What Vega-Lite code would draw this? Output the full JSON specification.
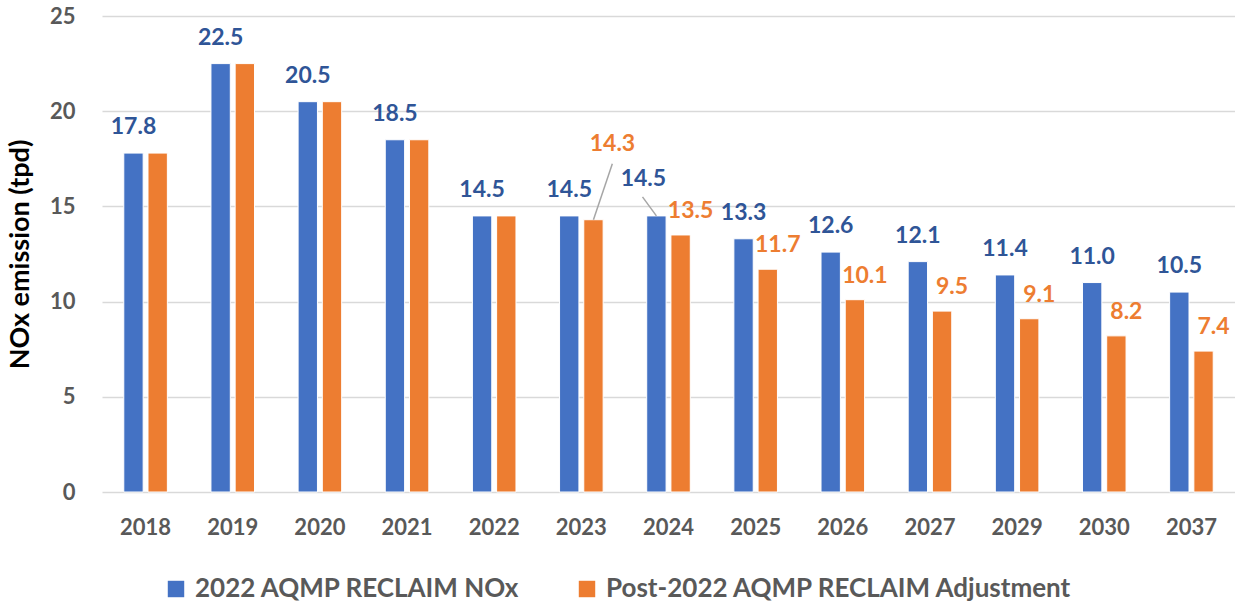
{
  "$schema": "https://vega.github.io/schema/vega-lite/v6.json",
  "width": 1133,
  "height": 476,
  "autosize": {"type": "none"},
  "padding": {"left": 102, "top": 16, "right": 0, "bottom": 115},
  "config": {"font": "Lato", "view": {"stroke": null}},
  "data": {"values": [
    {"year": "2018", "series": "2022 AQMP RECLAIM NOx", "value": 17.8},
    {"year": "2018", "series": "Post-2022 AQMP RECLAIM Adjustment", "value": 17.8},
    {"year": "2019", "series": "2022 AQMP RECLAIM NOx", "value": 22.5},
    {"year": "2019", "series": "Post-2022 AQMP RECLAIM Adjustment", "value": 22.5},
    {"year": "2020", "series": "2022 AQMP RECLAIM NOx", "value": 20.5},
    {"year": "2020", "series": "Post-2022 AQMP RECLAIM Adjustment", "value": 20.5},
    {"year": "2021", "series": "2022 AQMP RECLAIM NOx", "value": 18.5},
    {"year": "2021", "series": "Post-2022 AQMP RECLAIM Adjustment", "value": 18.5},
    {"year": "2022", "series": "2022 AQMP RECLAIM NOx", "value": 14.5},
    {"year": "2022", "series": "Post-2022 AQMP RECLAIM Adjustment", "value": 14.5},
    {"year": "2023", "series": "2022 AQMP RECLAIM NOx", "value": 14.5},
    {"year": "2023", "series": "Post-2022 AQMP RECLAIM Adjustment", "value": 14.3},
    {"year": "2024", "series": "2022 AQMP RECLAIM NOx", "value": 14.5},
    {"year": "2024", "series": "Post-2022 AQMP RECLAIM Adjustment", "value": 13.5},
    {"year": "2025", "series": "2022 AQMP RECLAIM NOx", "value": 13.3},
    {"year": "2025", "series": "Post-2022 AQMP RECLAIM Adjustment", "value": 11.7},
    {"year": "2026", "series": "2022 AQMP RECLAIM NOx", "value": 12.6},
    {"year": "2026", "series": "Post-2022 AQMP RECLAIM Adjustment", "value": 10.1},
    {"year": "2027", "series": "2022 AQMP RECLAIM NOx", "value": 12.1},
    {"year": "2027", "series": "Post-2022 AQMP RECLAIM Adjustment", "value": 9.5},
    {"year": "2029", "series": "2022 AQMP RECLAIM NOx", "value": 11.4},
    {"year": "2029", "series": "Post-2022 AQMP RECLAIM Adjustment", "value": 9.1},
    {"year": "2030", "series": "2022 AQMP RECLAIM NOx", "value": 11.0},
    {"year": "2030", "series": "Post-2022 AQMP RECLAIM Adjustment", "value": 8.2},
    {"year": "2037", "series": "2022 AQMP RECLAIM NOx", "value": 10.5},
    {"year": "2037", "series": "Post-2022 AQMP RECLAIM Adjustment", "value": 7.4}
  ]},
  "encoding": {
    "x": {
      "field": "year", "type": "nominal",
      "scale": {"paddingInner": 0.5, "paddingOuter": 0.25},
      "axis": {
        "title": null, "labelAngle": 0, "domain": false, "ticks": false, "grid": false,
        "labelFont": "Lato", "labelFontSize": 22, "labelFontWeight": "bold",
        "labelColor": "#595959", "labelPadding": 25
      }
    },
    "xOffset": {
      "field": "series", "type": "nominal",
      "sort": ["2022 AQMP RECLAIM NOx", "Post-2022 AQMP RECLAIM Adjustment"],
      "scale": {"paddingInner": 0.2, "paddingOuter": 0}
    },
    "y": {
      "field": "value", "type": "quantitative",
      "scale": {"domain": [0, 25], "nice": false},
      "axis": {
        "values": [0, 5, 10, 15, 20, 25],
        "title": "NOx emission (tpd)", "titleFont": "Lato", "titleFontSize": 27,
        "titleFontWeight": "bold", "titleColor": "#000000", "titlePadding": 15,
        "domain": false, "ticks": false, "grid": true, "gridColor": "#d9d9d9", "gridWidth": 1.5,
        "labelFont": "Lato", "labelFontSize": 22, "labelFontWeight": "bold",
        "labelColor": "#595959", "labelPadding": 27
      }
    }
  },
  "layer": [
    {
      "mark": {"type": "bar", "stroke": "white", "strokeWidth": 1},
      "encoding": {
        "color": {
          "field": "series", "type": "nominal",
          "scale": {
            "domain": ["2022 AQMP RECLAIM NOx", "Post-2022 AQMP RECLAIM Adjustment"],
            "range": ["#4472C4", "#ED7D31"]
          },
          "legend": {
            "title": null, "orient": "none", "legendX": 61, "legendY": 560,
            "direction": "horizontal", "symbolType": "square", "symbolSize": 270,
            "symbolStrokeWidth": 0, "labelFont": "Lato", "labelFontSize": 26,
            "labelFontWeight": "bold", "labelColor": "#595959", "columnPadding": 54,
            "labelOffset": 6, "labelLimit": 0
          }
        }
      }
    },
    {
      "transform": [{"filter": "datum.series == '2022 AQMP RECLAIM NOx' && datum.year != '2024'"}],
      "mark": {"type": "text", "baseline": "middle", "dy": -26, "fontSize": 23, "fontWeight": "bold", "font": "Lato", "color": "#2F5597"},
      "encoding": {"text": {"field": "value", "type": "quantitative", "format": ".1f"}}
    },
    {
      "transform": [{"filter": "datum.series == 'Post-2022 AQMP RECLAIM Adjustment' && datum.year > '2023'"}],
      "mark": {"type": "text", "baseline": "middle", "dx": 10, "dy": -24, "fontSize": 23, "fontWeight": "bold", "font": "Lato", "color": "#ED7D31"},
      "encoding": {"text": {"field": "value", "type": "quantitative", "format": ".1f"}}
    },
    {
      "transform": [{"filter": "datum.series == 'Post-2022 AQMP RECLAIM Adjustment' && datum.year == '2023'"}],
      "mark": {"type": "text", "baseline": "middle", "dx": 19, "dy": -76, "fontSize": 23, "fontWeight": "bold", "font": "Lato", "color": "#ED7D31"},
      "encoding": {"text": {"field": "value", "type": "quantitative", "format": ".1f"}}
    },
    {
      "transform": [{"filter": "datum.series == '2022 AQMP RECLAIM NOx' && datum.year == '2024'"}],
      "mark": {"type": "text", "baseline": "middle", "dx": -13, "dy": -37, "fontSize": 23, "fontWeight": "bold", "font": "Lato", "color": "#2F5597"},
      "encoding": {"text": {"field": "value", "type": "quantitative", "format": ".1f"}}
    },
    {
      "transform": [{"filter": "datum.series == 'Post-2022 AQMP RECLAIM Adjustment' && datum.year == '2023'"}],
      "mark": {"type": "rule", "color": "#a6a6a6", "strokeWidth": 1.5, "x2Offset": 31, "y2Offset": -56},
      "encoding": {
        "x2": {"field": "year"},
        "y2": {"field": "value"}
      }
    },
    {
      "transform": [{"filter": "datum.series == '2022 AQMP RECLAIM NOx' && datum.year == '2024'"}],
      "mark": {"type": "rule", "color": "#a6a6a6", "strokeWidth": 1.5, "x2Offset": -26, "y2Offset": -19},
      "encoding": {
        "x2": {"field": "year"},
        "y2": {"field": "value"}
      }
    }
  ]
}
